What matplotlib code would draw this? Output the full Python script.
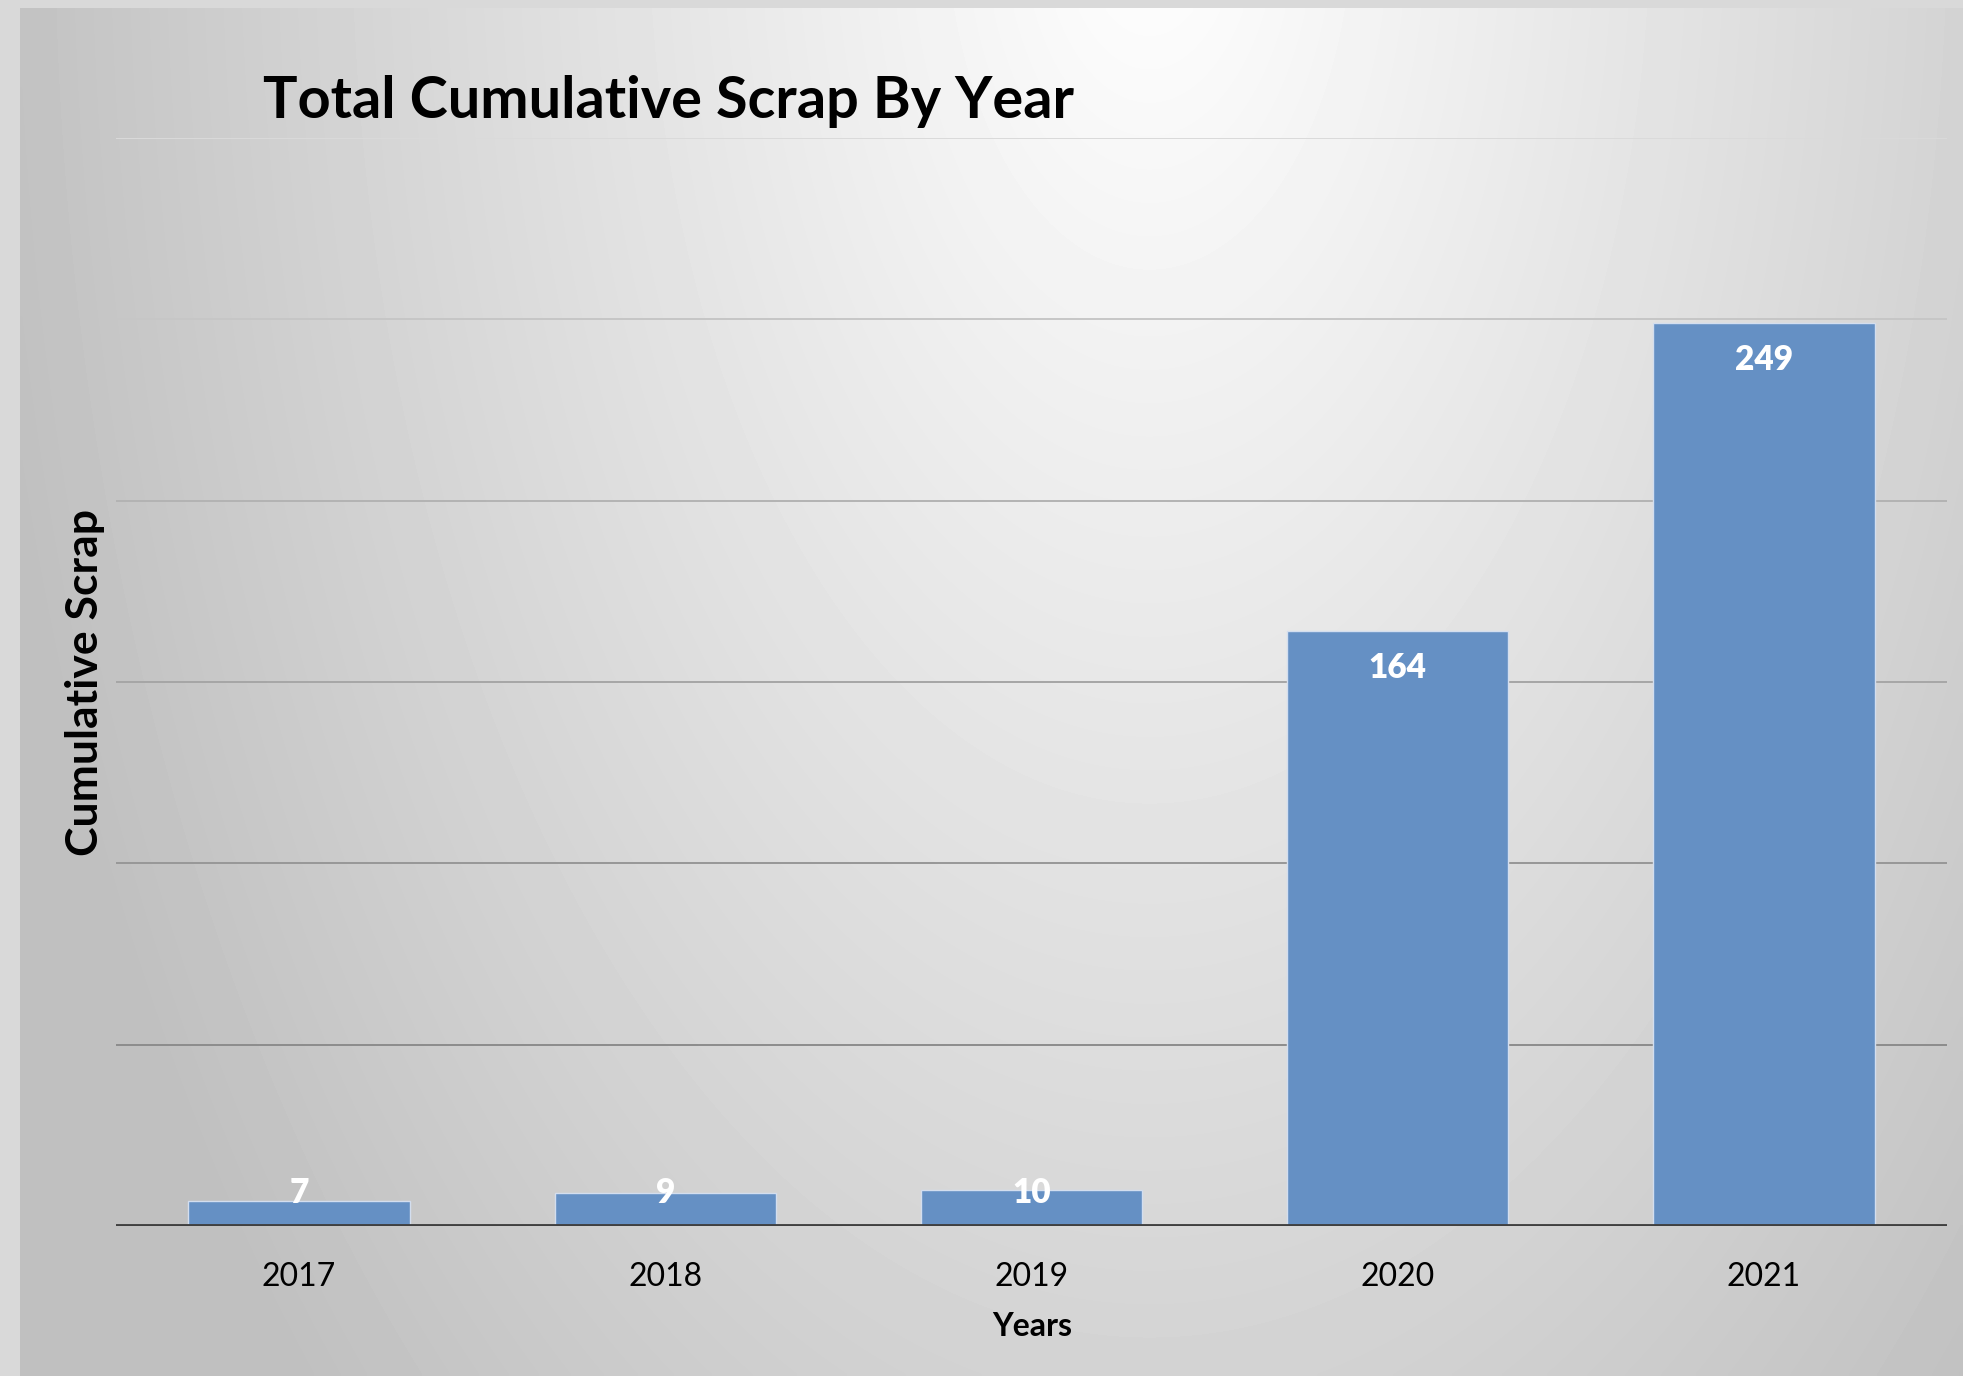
import numpy as np
import matplotlib
matplotlib.use("Agg")
import matplotlib.pyplot as plt

plt.rcParams['font.family'] = ['Lato', 'DejaVu Sans']

years = ['2017', '2018', '2019', '2020', '2021']
scrap = [7, 9, 10, 164, 249]
y_ticks = [0, 50, 100, 150, 200, 250, 300]

W, H = 1963, 1376
fig = plt.figure(figsize=(W / 100, H / 100), dpi=100, facecolor='#d9d9d9')

# gradient panel behind the chart
bg = fig.add_axes([20 / W, 0, 1 - 20 / W, 1 - 8 / H], zorder=-2)
gx, gy = np.meshgrid(np.linspace(20, W, 400), np.linspace(8, H, 300))
d = np.sqrt(((gx - 1150) / 1000) ** 2 + ((gy + 100) / 1800) ** 2)
shade = np.clip(1.0 - 0.21 * d, 0.75, 1.0)
bg.imshow(shade, cmap='gray', vmin=0, vmax=1, aspect='auto', interpolation='bilinear')
bg.set_axis_off()

ax = fig.add_axes([116 / W, 1 - 1226 / H, (1947 - 116) / W, (1226 - 138) / H])
ax.patch.set_alpha(0)
x = np.arange(len(years))
ax.bar(x, scrap, width=0.605, color='#6590c4', edgecolor='#d3deef', linewidth=1, zorder=3)

ax.set_xlim(-0.5, len(years) - 0.5)
ax.set_ylim(y_ticks[0], y_ticks[-1])
ax.set_yticks(y_ticks)
ax.set_yticklabels([])
ax.set_xticks(x)
ax.set_xticklabels(years, fontsize=23)
ax.tick_params(axis='both', length=0)
ax.tick_params(axis='x', pad=26)
for s in ax.spines.values():
    s.set_visible(False)

ax.grid(axis='y', linewidth=1.4, zorder=1)
grid_colors = ['#404040', '#8c8c8c', '#979797', '#a6a6a6', '#b3b3b3', '#c6c6c6', '#dadada']
for line, c in zip(ax.get_ygridlines(), grid_colors):
    line.set_color(c)
ax.axhline(0, color='#404040', linewidth=3.5, zorder=4)

# value labels inside the top of each bar
for xi, v in zip(x, scrap):
    ax.text(xi, max(v - 10.2, 9.0), str(v), ha='center', va='center',
            color='white', fontsize=24, fontweight='heavy', zorder=5)

fig.text(263 / W, 1 - 118 / H, 'Total Cumulative Scrap By Year', fontsize=41.5,
         fontweight='bold', ha='left', va='baseline')
fig.text(85 / W, 1 - 682 / H, 'Cumulative Scrap', rotation=90, fontsize=32,
         fontweight='bold', ha='center', va='center')
fig.text(1032 / W, 1 - 1327 / H, 'Years', fontsize=23, fontweight='bold',
         ha='center', va='center')

fig.savefig('out.png', dpi=100, facecolor=fig.get_facecolor())
